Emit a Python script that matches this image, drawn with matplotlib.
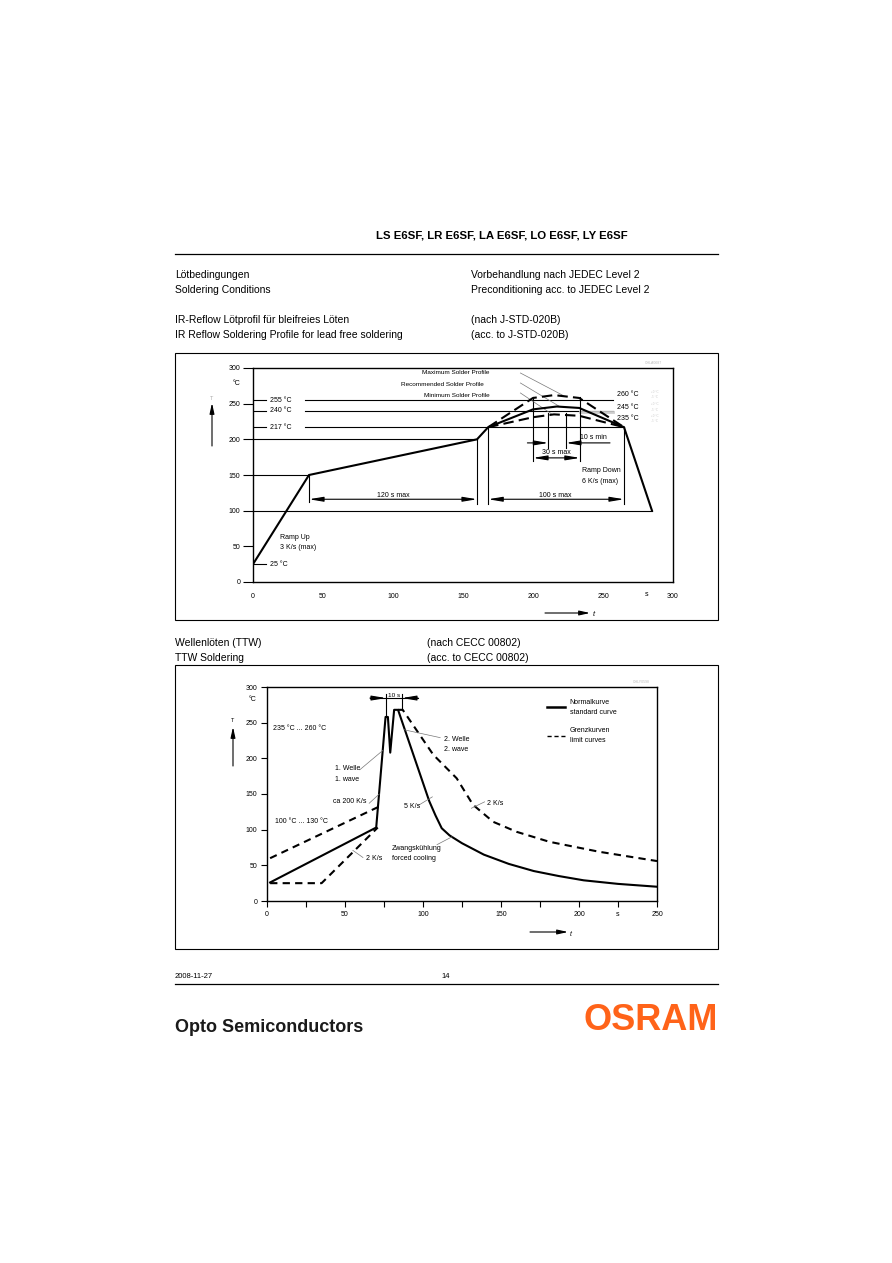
import numpy as np
import matplotlib
matplotlib.use("Agg")
import matplotlib.pyplot as plt
from matplotlib.patches import Rectangle

plt.rcParams['font.family'] = ['Liberation Sans', 'DejaVu Sans']

# ---------------- data: IR reflow profile ----------------
ir_t_rec = [0, 40, 160, 168, 200, 217, 233, 265, 285]
ir_T_rec = [25, 150, 200, 217, 242, 246, 244, 217, 100]
ir_t_max = [168, 200, 215, 233, 265]
ir_T_max = [217, 258, 262, 258, 217]
ir_t_min = [168, 200, 215, 233, 265]
ir_T_min = [217, 231, 235, 233, 217]
ir_ref_levels = [255, 240, 217]
ir_ref_labels = ["255 °C", "240 °C", "217 °C"]
ir_right_levels = [263, 245, 229]
ir_right_labels = ["260 °C", "245 °C", "235 °C"]
ir_ticks_x = [0, 50, 100, 150, 200, 250, 300]
ir_ticks_y = [0, 50, 100, 150, 200, 250, 300]

# ---------------- data: wave soldering (TTW) ----------------
ttw_t_std = [2, 70, 76, 77.5, 79, 81.5, 84, 104, 108, 112, 117, 125, 139, 155, 171, 187, 203, 225, 250]
ttw_T_std = [26, 103, 258, 258, 208, 268, 268, 140, 120, 102, 92, 81, 65, 52, 42, 35, 29, 24, 20]
ttw_t_up = [2, 71.5]
ttw_T_up = [60, 132]
ttw_t_up2 = [84, 87, 106.6, 121.6, 132, 145, 160, 181, 213, 250]
ttw_T_up2 = [268, 268, 205, 172, 135, 111, 97, 83, 69, 56]
ttw_t_low = [2, 35, 71]
ttw_T_low = [25, 25, 103]
ttw_ticks_x = [0, 25, 50, 75, 100, 125, 150, 175, 200, 225, 250]
ttw_labels_x = ["0", "", "50", "", "100", "", "150", "", "200", "s", "250"]
ttw_ticks_y = [0, 50, 100, 150, 200, 250, 300]

W, H = 892, 1263
fig = plt.figure(figsize=(W / 100, H / 100), dpi=100)

# page layer in pixel coordinates
pg = fig.add_axes([0, 0, 1, 1])
pg.set_xlim(0, W)
pg.set_ylim(H, 0)
pg.axis("off")

fs = 7.5
pg.text(376, 235, "LS E6SF, LR E6SF, LA E6SF, LO E6SF, LY E6SF", fontsize=8.2,
        fontweight="bold", va="center", ha="left")
pg.plot([175, 718], [254, 254], color="k", lw=0.9)

page_left = [(275, "Lötbedingungen"), (290, "Soldering Conditions"),
             (320, "IR-Reflow Lötprofil für bleifreies Löten"),
             (335, "IR Reflow Soldering Profile for lead free soldering"),
             (643, "Wellenlöten (TTW)"), (658, "TTW Soldering")]
for y, s in page_left:
    pg.text(175, y, s, fontsize=fs, va="center")
page_right = [(471, 275, "Vorbehandlung nach JEDEC Level 2"),
              (471, 290, "Preconditioning acc. to JEDEC Level 2"),
              (471, 320, "(nach J-STD-020B)"), (471, 335, "(acc. to J-STD-020B)"),
              (427, 643, "(nach CECC 00802)"), (427, 658, "(acc. to CECC 00802)")]
for x, y, s in page_right:
    pg.text(x, y, s, fontsize=fs, va="center")

pg.add_patch(Rectangle((175, 353), 543, 267, fill=False, lw=0.8, ec="k"))
pg.add_patch(Rectangle((175, 665), 543, 284, fill=False, lw=0.8, ec="k"))

pg.text(175, 977, "2008-11-27", fontsize=5.5, va="center")
pg.text(441, 977, "14", fontsize=5.5, va="center")
pg.plot([175, 718], [984, 984], color="k", lw=0.9)
pg.text(175, 1028, "Opto Semiconductors", fontsize=13, fontweight="bold", va="center",
        color="#1a1a1a")
pg.text(718, 1021, "OSRAM", fontsize=26, fontweight="bold", va="center", ha="right",
        color="#FF6319")

# axis arrows (page coords)
arr = dict(arrowstyle="-|>,head_length=0.9,head_width=0.2", color="k", lw=0.8,
           shrinkA=0, shrinkB=0, mutation_scale=7)
pg.annotate("", xy=(212, 403), xytext=(212, 446), arrowprops=arr)
pg.text(212, 398, "T", fontsize=4, ha="center", va="center", color="#aaaaaa")
pg.annotate("", xy=(590, 613), xytext=(545, 613), arrowprops=arr)
pg.text(593, 615, "t", fontsize=5.5, va="center", style="italic")
pg.annotate("", xy=(233, 727), xytext=(233, 766), arrowprops=arr)
pg.text(233, 721, "T", fontsize=4, ha="center", va="center")
pg.annotate("", xy=(568, 932), xytext=(530, 932), arrowprops=arr)
pg.text(570, 934, "t", fontsize=5, va="center", style="italic")
pg.text(645, 363, "OHLA0687", fontsize=2.5, color="#bbbbbb", va="center")
pg.text(633, 682, "OHLY0598", fontsize=2.5, color="#bbbbbb", va="center")


def rect(l, t, r, b):
    return [l / W, 1 - b / H, (r - l) / W, (b - t) / H]


tf = 5.0

# ---------------- chart 1 ----------------
ax = fig.add_axes(rect(253, 368, 673, 582))
ax.set_xlim(0, 300)
ax.set_ylim(0, 300)
for sp in ax.spines.values():
    sp.set_linewidth(1.0)
ax.set_xticks(ir_ticks_x)
ax.set_yticks(ir_ticks_y)
ax.tick_params(axis="y", length=7, width=0.8, labelsize=tf, pad=2)
ax.tick_params(axis="x", length=0, labelsize=tf, pad=8)
ax.text(281, -18, "s", fontsize=tf, ha="center", va="center")
ax.text(-12, 278, "°C", fontsize=tf, ha="center", va="center")

lk = dict(color="k", lw=0.8)
# reference lines
for lev, lab in zip(ir_ref_levels, ir_ref_labels):
    end = 257 if lev != 217 else 265
    ax.plot([0, 9], [lev, lev], **lk)
    ax.plot([37, end], [lev, lev], **lk)
    ax.text(12, lev, lab, fontsize=tf, va="center")
ax.plot([0, 160], [200, 200], **lk)
ax.plot([0, 40], [150, 150], **lk)
ax.plot([0, 285], [100, 100], **lk)
ax.plot([0, 9], [25, 25], **lk)
ax.text(12, 24, "25 °C", fontsize=tf, va="center")
ax.plot([233.5, 257], [238.5, 238.5], color="#cccccc", lw=2)
for lev, lab in zip(ir_right_levels, ir_right_labels):
    ax.text(260, lev, lab, fontsize=tf, va="center")
for i, lev in enumerate(ir_right_levels):
    ax.text(284, lev + 4, "+0 °C", fontsize=2.2, color="#cccccc", va="center")
    ax.text(284, lev - 4, "-5 °C", fontsize=2.2, color="#cccccc", va="center")

# verticals
ax.plot([40, 40], [150, 112], **lk)
ax.plot([160, 160], [200, 110], **lk)
ax.plot([168, 168], [217, 110], **lk)
ax.plot([265, 265], [217, 110], **lk)
ax.plot([200, 200], [260, 170], **lk)
ax.plot([233.5, 233.5], [260, 170], **lk)
ax.plot([211, 211], [237, 188], **lk)
ax.plot([223.5, 223.5], [237, 188], **lk)

dbl = dict(arrowstyle="<|-|>,head_length=1.2,head_width=0.2", color="k", lw=0.8,
           shrinkA=0, shrinkB=0, mutation_scale=7)
one = dict(arrowstyle="-|>,head_length=1.2,head_width=0.2", color="k", lw=0.8,
           shrinkA=0, shrinkB=0, mutation_scale=7)
ax.annotate("", xy=(40, 116), xytext=(160, 116), arrowprops=dbl)
ax.text(100, 121, "120 s max", fontsize=tf, ha="center", va="center")
ax.annotate("", xy=(168, 116), xytext=(265, 116), arrowprops=dbl)
ax.text(216, 121, "100 s max", fontsize=tf, ha="center", va="center")
ax.annotate("", xy=(200, 174), xytext=(233.5, 174), arrowprops=dbl)
ax.text(216.5, 181, "30 s max", fontsize=tf, ha="center", va="center")
ax.annotate("", xy=(211, 195), xytext=(196, 195), arrowprops=one)
ax.annotate("", xy=(223.5, 195), xytext=(255, 195), arrowprops=one)
ax.text(243, 202, "10 s min", fontsize=tf, ha="center", va="center")
ax.text(235, 157, "Ramp Down", fontsize=tf, va="center")
ax.text(235, 141, "6 K/s (max)", fontsize=tf, va="center")
ax.text(19, 63, "Ramp Up", fontsize=tf, va="center")
ax.text(19, 48, "3 K/s (max)", fontsize=tf, va="center")

# leaders
gl = dict(color="#777777", lw=0.5)
ax.text(168.5, 293, "Maximum Solder Profile", fontsize=4.6, ha="right", va="center")
ax.text(165, 277, "Recommended Solder Profile", fontsize=4.6, ha="right", va="center")
ax.text(169, 262, "Minimum Solder Profile", fontsize=4.6, ha="right", va="center")
ax.plot([191, 222], [293, 261], **gl)
ax.plot([191, 219], [279, 246], **gl)
ax.plot([191, 213], [265, 236], **gl)

# curves
ax.plot(ir_t_rec, ir_T_rec, color="k", lw=1.5, solid_joinstyle="miter")
ax.plot(ir_t_max, ir_T_max, color="k", lw=1.5, ls=(0, (5, 2.5)))
ax.plot(ir_t_min, ir_T_min, color="k", lw=1.5, ls=(0, (5, 2.5)))

# ---------------- chart 2 ----------------
bx = fig.add_axes(rect(267, 687, 657, 901))
bx.set_xlim(0, 250)
bx.set_ylim(0, 300)
for sp in bx.spines.values():
    sp.set_linewidth(1.0)
bx.set_xticks(ttw_ticks_x)
bx.set_xticklabels(ttw_labels_x)
bx.set_yticks(ttw_ticks_y)
bx.tick_params(axis="both", length=4, width=0.8, labelsize=tf, pad=3)
bx.text(-9, 282, "°C", fontsize=tf, ha="center", va="center")

bx.plot(ttw_t_std, ttw_T_std, color="k", lw=1.5)
dsh = (0, (3.5, 2.5))
bx.plot(ttw_t_up, ttw_T_up, color="k", lw=1.5, ls=dsh)
bx.plot(ttw_t_up2, ttw_T_up2, color="k", lw=1.5, ls=dsh)
bx.plot(ttw_t_low, ttw_T_low, color="k", lw=1.5, ls=dsh)

# 10 s marker
bx.plot([76.3, 76.3], [290, 258], **lk)
bx.plot([86.5, 86.5], [290, 268], **lk)
bx.plot([66, 96.8], [284.5, 284.5], **lk)
bx.annotate("", xy=(76.3, 284.5), xytext=(66, 284.5), arrowprops=one)
bx.annotate("", xy=(86.5, 284.5), xytext=(96.8, 284.5), arrowprops=one)
bx.text(81.4, 288, "10 s", fontsize=4.6, ha="center", va="center")

bx.text(4, 242, "235 °C ... 260 °C", fontsize=tf, va="center")
bx.text(5, 111, "100 °C ... 130 °C", fontsize=tf, va="center")
bx.text(43.5, 186, "1. Welle", fontsize=tf, va="center")
bx.text(43.5, 171, "1. wave", fontsize=tf, va="center")
bx.plot([59.5, 74.2], [184, 211], **gl)
bx.text(42, 139, "ca 200 K/s", fontsize=tf, va="center")
bx.plot([65.5, 72], [137, 150], **gl)
bx.text(63.5, 60, "2 K/s", fontsize=tf, va="center")
bx.plot([61.5, 55], [61, 71], **gl)
bx.text(88, 133, "5 K/s", fontsize=tf, va="center")
bx.plot([97, 106], [134, 146], **gl)
bx.text(80, 74, "Zwangskühlung", fontsize=tf, va="center")
bx.text(80, 59, "forced cooling", fontsize=tf, va="center")
bx.plot([109, 118.6], [79, 90], **gl)
bx.text(113.5, 227, "2. Welle", fontsize=tf, va="center")
bx.text(113.5, 212, "2. wave", fontsize=tf, va="center")
bx.plot([111, 88], [229, 240], **gl)
bx.text(141, 137, "2 K/s", fontsize=tf, va="center")
bx.plot([139.5, 131], [139, 130], **gl)

# legend
bx.plot([179.5, 191], [272, 272], color="k", lw=1.8)
bx.plot([179.5, 191], [231, 231], color="k", lw=1.0, ls=(0, (3, 2)))
bx.text(194, 278, "Normalkurve", fontsize=tf, va="center")
bx.text(194, 264, "standard curve", fontsize=tf, va="center")
bx.text(194, 239.5, "Grenzkurven", fontsize=tf, va="center")
bx.text(194, 224.5, "limit curves", fontsize=tf, va="center")

fig.savefig("out.png", dpi=100)
